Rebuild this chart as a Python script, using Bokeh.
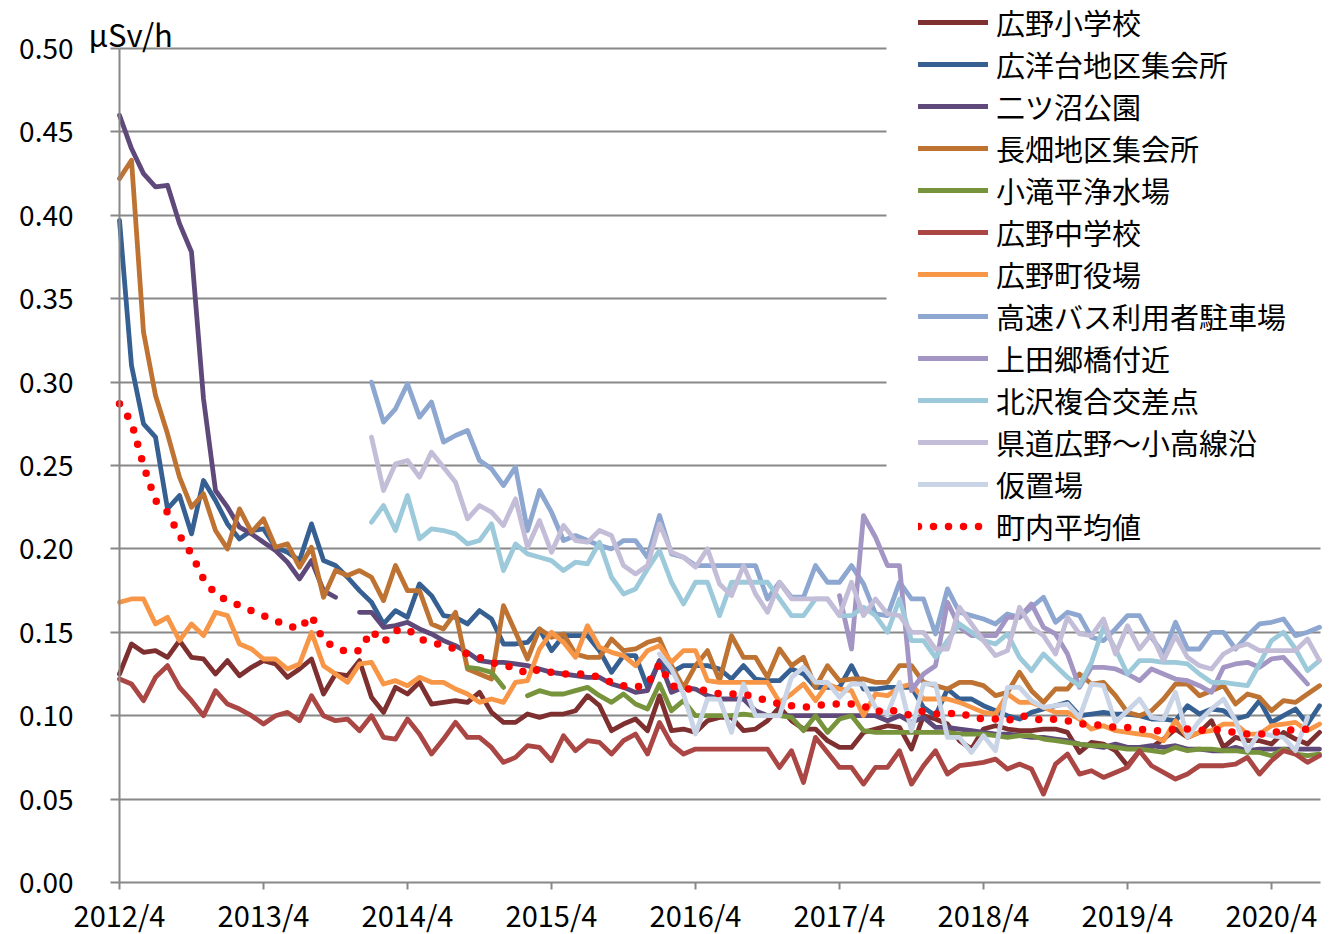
import numpy as np
from bokeh.plotting import figure
from bokeh.models import (Range1d, FixedTicker, NumeralTickFormatter, Legend,
                          LegendItem, Label, BoxAnnotation)
from bokeh.embed import file_html
from bokeh.resources import INLINE

N = None
FONT = "Noto Sans CJK JP"

# month index 0 = 2012/4 ... 100 = 2020/8
months = list(range(101))
year_ticks = [0, 12, 24, 36, 48, 60, 72, 84, 96]
year_labels = ["2012/4", "2013/4", "2014/4", "2015/4", "2016/4",
               "2017/4", "2018/4", "2019/4", "2020/4"]
y_ticks = [0.0, 0.05, 0.10, 0.15, 0.20, 0.25, 0.30, 0.35, 0.40, 0.45, 0.50]

hirono_sho = [.125, .143, .138, .139, .135, .145, .135, .134, .125, .133, .124, .129, .133,
              .131, .123, .128, .134, .113, .125, .124, .133, .111, .102, .117, .113, .120,
              .107, .108, .109, .108, .114, .102, .096, .096, .101, .099, .101, .101, .103,
              .112, .106, .091, .095, .098, .091, .112, .091, .092,
              .090, .097, .099, .099, .091, .092, .097, .105, .097, .092, .092, .085, .081,
              .081, .090, .092, .094, .093, .080, .100, .098, .095, .085, .080, .092, .094, .092,
              .091, .091, .092, .092, .090, .078, .084, .083, .079, .070, .079, .081, .086,
              .092, .087, .090, .097, .081, .087, .085, .085, .083, .090, .086, .083, .090]
koyodai = [.397, .310, .275, .267, .224, .232, .209, .241, .229, .215, .206, .211, .212,
           .201, .198, .193, .215, .193, .190, .183, .175, .168, .155, .163, .159, .179,
           .172, .160, .159, .155, .163, .158, .143, .143, .144, .152, .139, .148, .148,
           .148, .139, .126, .136, .136, .117, .133, .126, .130,
           .130, .130, .128, .122, .130, .122, .121, .121, .128, .125, .117, .117, .117,
           .130, .116, .116, .117, .117, .117, .105, .100, .116, .110, .110, .106, .103, .100,
           .098, .102, .104, .106, .108, .100, .101, .102, .101, .101, .100, .098, .098,
           .097, .106, .101, .104, .103, .098, .100, .109, .096, .100, .104, .095, .106]
futatsunuma = [.460, .440, .425, .417, .418, .395, .378, .290, .235, .225, .213, .209, .204,
               .199, .192, .182, .193, .175, .171, N, .162, .162, .153, .154, .156, .152,
               .149, .145, .142, .138, .133, .132, .132, .131, .130, .128, .126, .125, .124,
               .123, .123, .119, .117, .114, .115, .133, .114, .117,
               .116, .112, .110, .110, .110, .103, .100, .100, .100, .100, .100, .100, .100,
               .100, .100, .100, .097, .100, .096, .099, .093, .093, .092, .091, .090, .089, .089,
               .088, .087, .087, .086, .085, .083, .082, .081, .083, .081, .081, .082, .081,
               .082, .080, .080, .079, .079, .081, .079, .080, .080, .080, .080, .080, .080]
nagahata = [.422, .433, .330, .292, .269, .243, .225, .233, .211, .200, .224, .210, .218,
            .201, .203, .189, .201, .171, .187, .184, .187, .183, .169, .190, .175, .175,
            .155, .152, .162, .128, .125, .122, .166, .150, .134, .152, .147, .149, .137,
            .135, .135, .146, .139, .140, .144, .146, .130, .117,
            .130, .139, .121, .148, .135, .135, .123, .140, .130, .135, .117, .130, .121,
            .122, .122, .120, .120, .130, .130, .120, .118, .116, .120, .120, .118, .112, .114,
            .126, .115, .108, .116, .116, .125, .119, .120, .112, .102, .100, .103, .110,
            .119, .119, .112, .115, .118, .107, .113, .111, .103, .109, .108, .113, .118]
kotakidaira = [N] * 29 + [.129, .128, .126, .117, N,
               .112, .115, .113, .113, .115, .117, .112, .108, .113, .107, .104, .119, .103, .109,
               .100, .100, .100, .100, .101, .100, .100, .100, .099, .091, .100, .090, .098,
               .100, .091, .090, .090, .090, .090, .090, .090, .090, .089, .089, .089, .088, .087,
               .088, .088, .086, .085, .084, .083, .082, .082, .081, .080, .080, .079, .078,
               .081, .079, .080, .080, .079, .079, .078, .078, .076, .080, .077, .076, .077]
hirono_chu = [.122, .119, .109, .123, .130, .117, .109, .100, .115, .107, .104, .100, .095,
              .100, .102, .097, .112, .100, .097, .098, .091, .100, .087, .086, .098, .089,
              .077, .086, .096, .087, .087, .081, .072, .075, .082, .081, .073, .088, .079,
              .085, .084, .077, .085, .089, .077, .096, .083, .077,
              .080, .080, .080, .080, .080, .080, .080, .069, .079, .060, .087, .078, .069,
              .069, .059, .069, .069, .079, .059, .070, .079, .065, .070, .071, .072, .074, .068,
              .071, .068, .053, .071, .077, .065, .067, .063, .066, .069, .079, .070, .066,
              .062, .065, .070, .070, .070, .071, .075, .065, .073, .079, .077, .072, .076]
yakuba = [.168, .170, .170, .155, .159, .145, .155, .148, .162, .160, .143, .140, .134,
          .134, .128, .131, .150, .130, .125, .120, .131, .132, .119, .121, .118, .123,
          .120, .120, .116, .113, .108, .110, .108, .120, .121, .140, .150, .144, .135,
          .154, .141, .138, .136, .130, .139, .142, .132, .139,
          .139, .121, .120, .120, .120, .120, .120, .108, .113, .119, .109, .119, .116,
          .115, .100, .113, .112, .117, .119, .110, .110, .110, .108, .105, .102, .101, .113,
          .108, .108, .105, .102, .102, .098, .092, .094, .091, .090, .089, .088, .085,
          .097, .087, .090, .091, .095, .095, .089, .089, .094, .095, .096, .091, .095]
kosoku_bus = [N] * 21 + [.300, .276, .284, .299, .279, .288, .264, .268, .271, .253,
              .248, .238, .249, .211, .235, .222, .205, .208, .205, .202, .200, .205, .205,
              .195, .220, .197, .195,
              .190, .190, .190, .190, .190, .190, .170, .180, .171, .171, .190, .180, .180,
              .190, .179, .161, .160, .180, .170, .170, .149, .176, .162, .160, .158, .155, .161,
              .159, .165, .171, .156, .162, .160, .147, .145, .152, .160, .160, .147, .137,
              .156, .140, .140, .150, .150, .140, .148, .155, .156, .158, .148, .150, .153]
kamidago = [N] * 60 + [.172, .140, .220, .207, .190, .190, .115, .125, .130, .168, .153,
            .148, .148, .148, .159,
            .159, .167, .153, .149, .137, .117, .129, .129, .128, .125, .121, .128, .125,
            .122, .121, .118, .114, .129, .131, .132, .129, .134, .135, .127, .119, N]
kitazawa = [N] * 21 + [.216, .226, .211, .232, .206, .212, .211, .209, .203, .205, .215,
            .187, .203, .197, .195, .193, .187, .192, .191, .204, .183, .173, .176, .188,
            .199, .180, .167,
            .180, .180, .160, .180, .180, .180, .180, .170, .160, .160, .170, .170, .160,
            .160, .165, .160, .150, .170, .145, .145, .135, .145, .155, .150, .145, .143, .149,
            .135, .127, .137, .130, .123, .118, .132, .153, .140, .125, .133, .133, .132,
            .132, .131, .125, .120, .120, .119, .118, .131, .145, .150, .140, .127, .133]
kendo = [N] * 21 + [.267, .235, .251, .253, .243, .258, .249, .240, .218, .226, .222,
         .214, .230, .201, .217, .198, .214, .205, .204, .211, .208, .190, .185, .190,
         .215, .198, .195,
         .189, .200, .179, .172, .190, .173, .162, .180, .170, .170, .170, .170, .160,
         .180, .160, .170, .161, .160, .150, .150, .140, .140, .165, .155, .145, .136, .139,
         .165, .153, .148, .137, .159, .149, .148, .158, .137, .154, .140, .149, .133,
         .148, .135, .130, .128, .137, .141, .143, .139, .139, .139, .139, .146, .133]
karioki = [N] * 45 + [.137, .128, .113, .089, .110, .110, .090, .119, .100, .100,
           .100, .123, .129, .120, .120, .111, .119, .119, .105, .101,
           .120, .091, .119, .119, .087, .087, .078, .088, .079, .117,
           .117, .109, .105, .106, .107, .099, .119, .118, .096, .103, .110, .099, .098,
           .114, .087, .097, .104, .110, .097, .079, .090, .088, .087, .079, .099, N]
average = [.287, .276, .250, .229, .222, .208, .197, .182, .173, .169, .166, .163, .160,
           .157, .154, .152, .160, .145, .141, .138, .139, .151, .144, .151, .152, .146,
           .144, .142, .140, .137, .135, .132, .130, .129, .125, .128, .126, .125, .125,
           .125, .123, .120, .118, .117, .119, .131, .118, .116,
           .116, .115, .113, .113, .113, .111, .109, .107, .106, .105, .106, .107, .107,
           .107, .106, .102, .104, .102, .100, .103, .101, .101, .102, .099, .098, .098, .097,
           .100, .099, .097, .098, .097, .095, .095, .094, .093, .093, .092, .091, .091,
           .092, .092, .091, .092, .091, .090, .089, .089, .089, .092, .091, .092, .093]

names = ["広野小学校", "広洋台地区集会所", "二ツ沼公園", "長畑地区集会所", "小滝平浄水場",
         "広野中学校", "広野町役場", "高速バス利用者駐車場", "上田郷橋付近", "北沢複合交差点",
         "県道広野～小高線沿", "仮置場", "町内平均値"]
series = [hirono_sho, koyodai, futatsunuma, nagahata, kotakidaira, hirono_chu, yakuba,
          kosoku_bus, kamidago, kitazawa, kendo, karioki, average]
colors = ["#7E2F2F", "#376092", "#5F497A", "#BE7332", "#77933C", "#AA4643", "#F79646",
          "#8DA7D0", "#A395C4", "#9DCADB", "#C4BDD8", "#C9D4E6", "#FF0000"]

W, H = 1332, 934
X0, Y0, PX_PER_MONTH, PX_PER_UNIT = 119, 882, 12.0, 1668.0   # layout of the plot frame
X_END = 100.08

p = figure(width=W, height=H, output_backend="svg", toolbar_location=None,
           x_range=Range1d(-X0 / PX_PER_MONTH, (W - X0) / PX_PER_MONTH),
           y_range=Range1d((Y0 - H) / PX_PER_UNIT, Y0 / PX_PER_UNIT),
           min_border=0, min_border_left=0, min_border_right=0,
           min_border_top=0, min_border_bottom=0)
p.outline_line_color = None
p.background_fill_color = "white"
p.border_fill_color = "white"

GRAY = "#888888"
p.xgrid.visible = False
grid = p.ygrid[0]
grid.ticker = FixedTicker(ticks=y_ticks[1:])
grid.grid_line_color = GRAY
grid.grid_line_width = 2
if "cross_bounds" in grid.properties():
    grid.cross_bounds = (0, X_END)
else:
    grid.visible = False
    p.segment(x0=[0] * 10, x1=[X_END] * 10, y0=y_ticks[1:], y1=y_ticks[1:],
              line_color=GRAY, line_width=2, level="underlay")

p.xaxis.ticker = FixedTicker(ticks=year_ticks)
p.xaxis.major_label_overrides = {t: l for t, l in zip(year_ticks, year_labels)}
p.xaxis.fixed_location = 0
p.xaxis.bounds = (0, X_END)
p.yaxis.ticker = FixedTicker(ticks=y_ticks)
p.yaxis.formatter = NumeralTickFormatter(format="0.00")
p.yaxis.fixed_location = 0
p.yaxis.bounds = (0, 0.5)
for ax in (p.xaxis, p.yaxis):
    ax.axis_line_color = GRAY
    ax.axis_line_width = 2
    ax.major_tick_line_color = GRAY
    ax.major_tick_line_width = 2
    ax.major_tick_in = 0
    ax.minor_tick_line_color = None
    ax.major_label_text_font = FONT
    ax.major_label_text_color = "black"
p.xaxis.major_tick_out = 7
p.xaxis.major_label_standoff = 3
p.xaxis.major_label_text_font_size = "29px"
p.yaxis.major_tick_out = 9
p.yaxis.major_label_standoff = 37
p.yaxis.major_label_text_font_size = "28px"

# white backing behind legend (hides gridlines there)
mask = BoxAnnotation(left=(886 - X0) / PX_PER_MONTH, right=(W - X0) / PX_PER_MONTH + 1,
                     bottom=(Y0 - 542) / PX_PER_UNIT, top=1.0,
                     fill_color="white", fill_alpha=1.0, line_alpha=0, level="glyph")
p.add_layout(mask)

renderers = []
for vals, c, nm in zip(series, colors, names):
    y = np.array([np.nan if v is None else v for v in vals], dtype=float)
    if nm == "町内平均値":
        r = p.line(months, y, line_color=c, line_width=7.5, line_dash="0 15",
                   line_cap="round", line_join="round")
    else:
        r = p.line(months, y, line_color=c, line_width=4.8, line_cap="round",
                   line_join="round")
    renderers.append(r)

legend = Legend(items=[LegendItem(label=nm, renderers=[r]) for nm, r in zip(names, renderers)],
                location=(918, 387), label_text_font=FONT, label_text_font_size="29px",
                label_text_color="black", glyph_width=70, glyph_height=42, label_height=42,
                spacing=0, padding=0, margin=0, label_standoff=8,
                border_line_alpha=0, background_fill_color="white", background_fill_alpha=1.0)
p.add_layout(legend)

unit = Label(x=88, y=H - 33, x_units="screen", y_units="screen", text="μSv/h",
             text_font=FONT, text_font_size="31px", text_baseline="middle",
             text_align="left", text_color="black")
p.add_layout(unit)

open("out.html", "w").write(file_html(p, INLINE))
